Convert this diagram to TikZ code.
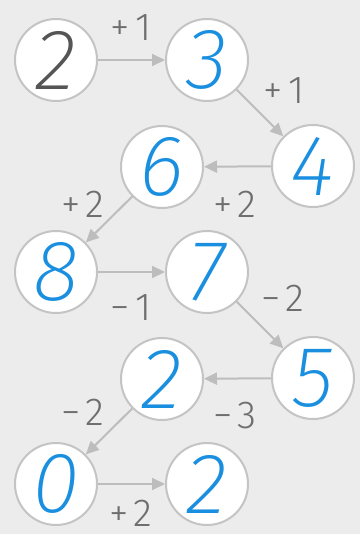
\documentclass[tikz,border=0pt]{standalone}
\usepackage{fontspec}
\usetikzlibrary{arrows.meta}
\newfontfamily\hand{Fira Sans ExtraLight Italic}
\newfontfamily\lab{Fira Sans Light}
\definecolor{bg}{HTML}{ECECEC}
\definecolor{ring}{HTML}{C4C4C4}
\definecolor{arr}{HTML}{BDBDBD}
\definecolor{blu}{HTML}{1A8FE0}
\definecolor{dgray}{HTML}{555555}
\definecolor{lgray}{HTML}{6E6E6E}
\tikzset{
  num/.style={circle,draw=ring,line width=2pt,fill=white,minimum size=82pt,inner sep=0pt,
     font=\hand\fontsize{86}{86}\selectfont,text=blu},
  lbl/.style={font=\lab\fontsize{39}{39}\selectfont,text=lgray,inner sep=0pt},
  conn/.style={draw=arr,line width=2pt,-{Triangle[length=13pt,width=12pt]}},
}
\begin{document}
\begin{tikzpicture}[x=1pt,y=-1pt]
\fill[bg] (0,0) rectangle (360,534);
\useasboundingbox (0,0) rectangle (360,534);
\node[num,text=dgray] (n1) at (56,60) {2};
\node[num] (n2) at (207,60) {3};
\node[num] (n3) at (313,166) {4};
\node[num] (n4) at (162,167) {6};
\node[num] (n5) at (56,272) {8};
\node[num] (n6) at (207,272) {7};
\node[num] (n7) at (313,378) {5};
\node[num] (n8) at (162,379) {2};
\node[num] (n9) at (56,484) {0};
\node[num] (n10) at (207,484) {2};
\draw[conn] (n1) -- (n2);
\draw[conn] (n2) -- (n3);
\draw[conn] (n3) -- (n4);
\draw[conn] (n4) -- (n5);
\draw[conn] (n5) -- (n6);
\draw[conn] (n6) -- (n7);
\draw[conn] (n7) -- (n8);
\draw[conn] (n8) -- (n9);
\draw[conn] (n9) -- (n10);
\node[lbl] (l1) at (131,28) {+\hspace{5pt}1};
\node[lbl] (l2) at (284,91) {+\hspace{5pt}1};
\node[lbl] (l3) at (83,204) {+\hspace{5pt}2};
\node[lbl] (l4) at (235,204) {+\hspace{5pt}2};
\node[lbl] (l5) at (131,308) {−\hspace{5pt}1};
\node[lbl] (l6) at (283,298) {−\hspace{5pt}2};
\node[lbl] (l7) at (83,412) {−\hspace{5pt}2};
\node[lbl] (l8) at (235,416) {−\hspace{5pt}3};
\node[lbl] (l9) at (131,513) {+\hspace{5pt}2};
\end{tikzpicture}
\end{document}
